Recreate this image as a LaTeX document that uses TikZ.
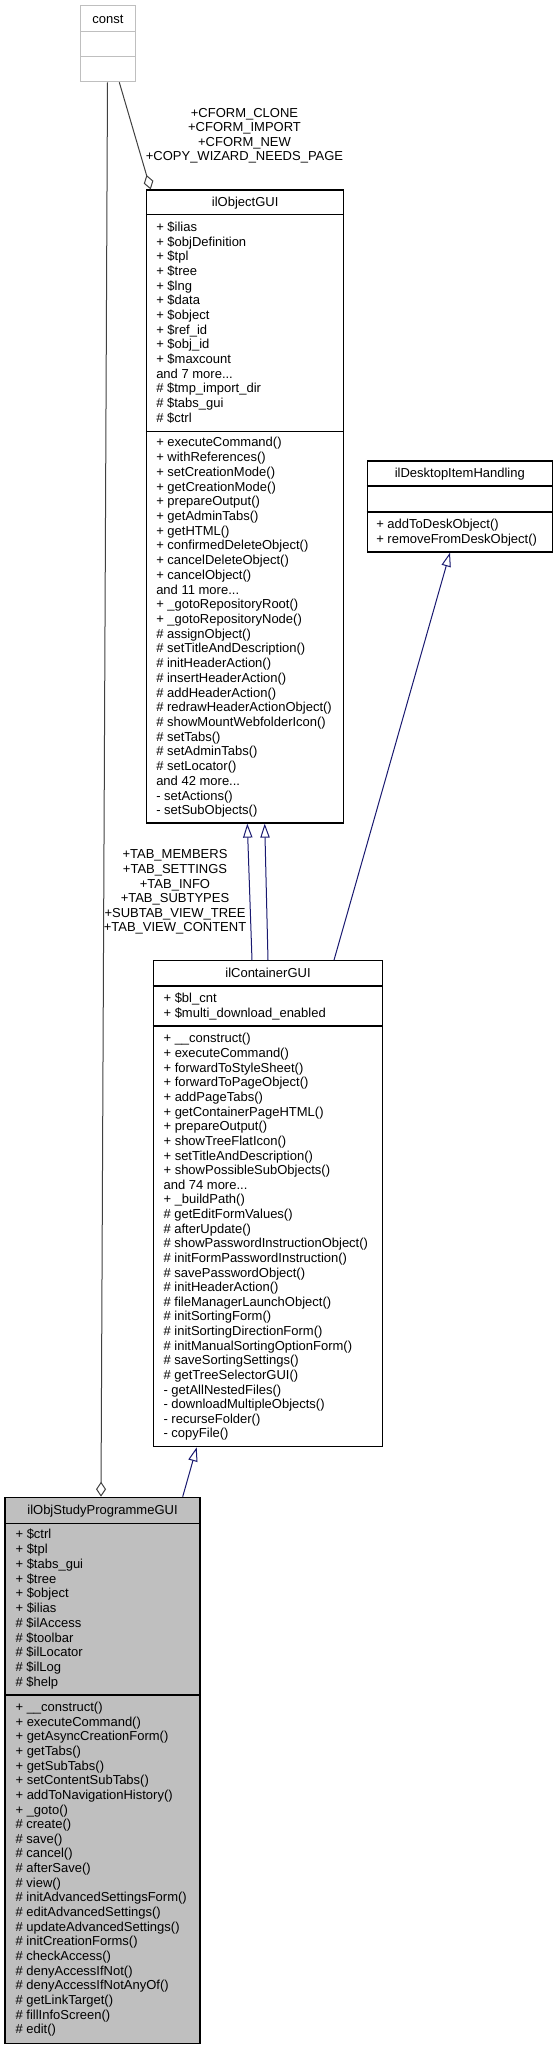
\documentclass[tikz,border=0pt]{standalone}
\usepackage{fontspec}
\setmainfont{Liberation Sans}
\usetikzlibrary{arrows.meta, calc, fit}
\definecolor{edgegray}{HTML}{404040}
\definecolor{boxgray}{HTML}{BFBFBF}
\definecolor{inheritblue}{HTML}{191970}

\tikzset{
  classbox/.style={draw=black, line width=0.9pt, inner sep=0pt},
  member/.style={anchor=west, inner sep=0pt, text height=7pt, text depth=0pt, font=\fontsize{9.75pt}{11pt}\selectfont},
  classname/.style={member, anchor=center},
  edgelbl/.style={member, anchor=center},
  inherit/.style={draw=inheritblue, line width=0.75pt, -{Triangle[open, length=10.5pt, width=7pt]}},
  usage/.style={draw=edgegray, line width=0.75pt, -{Diamond[open, length=11.25pt, width=7.5pt]}},
}

\begin{document}
\begin{tikzpicture}[x=0.75pt, y=-0.75pt]
    \useasboundingbox (0,0) rectangle (557,2049);

    \node[classbox, draw=boxgray, fit={(80.7,5.7) (135.3,81.7)}] (const) {};
    \node[classbox, fit={(146.5,190) (343.8,823)}] (objgui) {};
    \node[classbox, fit={(367.3,461) (552.3,552)}] (deskgui) {};
    \node[classbox, fit={(153.3,960.7) (382.7,1446.7)}] (contgui) {};
    \node[classbox, fill=boxgray, fit={(5,1497.3) (200,2043.3)}] (studygui) {};

    \foreach \y in {31.7, 56.7}
        \draw[draw=boxgray, line width=0.9pt] (const.west |- 0,\y) -- (const.east |- 0,\y);
    \foreach \b/\y in {objgui/214.2, objgui/431.7, deskgui/486, deskgui/512, contgui/986, contgui/1026, studygui/1523.3, studygui/1695}
        \draw[line width=0.9pt] (\b.west |- 0,\y) -- (\b.east |- 0,\y);

    \node[classname] (constT) at (const.north |- 0,18.5) {const};
    \node[classname] (objguiT) at (objgui.north |- 0,202) {ilObjectGUI};
    \node[classname] (deskguiT) at (deskgui.north |- 0,473) {ilDesktopItemHandling};
    \node[classname] (contguiT) at (contgui.north |- 0,973) {ilContainerGUI};
    \node[classname] (studyguiT) at (studygui.north |- 0,1510.3) {ilObjStudyProgrammeGUI};

    \foreach \t [count=\i from 0] in {+ \$ilias, + \$objDefinition, + \$tpl, + \$tree, + \$lng, + \$data, + \$object, + \$ref\_id, + \$obj\_id, + \$maxcount, and 7 more.{}.{}., \# \$tmp\_import\_dir, \# \$tabs\_gui, \# \$ctrl}
        \node[member] (objguiA\i) at (156, 226.7+14.67*\i) {\t};
    \foreach \t [count=\i from 0] in {+ executeCommand(), + withReferences(), + setCreationMode(), + getCreationMode(), + prepareOutput(), + getAdminTabs(), + getHTML(), + confirmedDeleteObject(), + cancelDeleteObject(), + cancelObject(), and 11 more.{}.{}., + \_gotoRepositoryRoot(), + \_gotoRepositoryNode(), \# assignObject(), \# setTitleAndDescription(), \# initHeaderAction(), \# insertHeaderAction(), \# addHeaderAction(), \# redrawHeaderActionObject(), \# showMountWebfolderIcon(), \# setTabs(), \# setAdminTabs(), \# setLocator(), and 42 more.{}.{}., - setActions(), - setSubObjects()}
        \node[member] (objguiM\i) at (156, 442.3+14.71*\i) {\t};

    \foreach \t [count=\i from 0] in {+ addToDeskObject(), + removeFromDeskObject()}
        \node[member] (deskguiM\i) at (376, 524+14.7*\i) {\t};

    \foreach \t [count=\i from 0] in {+ \$bl\_cnt, + \$multi\_download\_enabled}
        \node[member] (contguiA\i) at (163.3, 998.3+14.3*\i) {\t};
    \foreach \t [count=\i from 0] in {+ \_\_construct(), + executeCommand(), + forwardToStyleSheet(), + forwardToPageObject(), + addPageTabs(), + getContainerPageHTML(), + prepareOutput(), + showTreeFlatIcon(), + setTitleAndDescription(), + showPossibleSubObjects(), and 74 more.{}.{}., + \_buildPath(), \# getEditFormValues(), \# afterUpdate(), \# showPasswordInstructionObject(), \# initFormPasswordInstruction(), \# savePasswordObject(), \# initHeaderAction(), \# fileManagerLaunchObject(), \# initSortingForm(), \# initSortingDirectionForm(), \# initManualSortingOptionForm(), \# saveSortingSettings(), \# getTreeSelectorGUI(), - getAllNestedFiles(), - downloadMultipleObjects(), - recurseFolder(), - copyFile()}
        \node[member] (contguiM\i) at (163.3, 1038.3+14.63*\i) {\t};

    \foreach \t [count=\i from 0] in {+ \$ctrl, + \$tpl, + \$tabs\_gui, + \$tree, + \$object, + \$ilias, \# \$ilAccess, \# \$toolbar, \# \$ilLocator, \# \$ilLog, \# \$help}
        \node[member] (studyguiA\i) at (15.3, 1534.3+14.73*\i) {\t};
    \foreach \t [count=\i from 0] in {+ \_\_construct(), + executeCommand(), + getAsyncCreationForm(), + getTabs(), + getSubTabs(), + setContentSubTabs(), + addToNavigationHistory(), + \_goto(), \# create(), \# save(), \# cancel(), \# afterSave(), \# view(), \# initAdvancedSettingsForm(), \# editAdvancedSettings(), \# updateAdvancedSettings(), \# initCreationForms(), \# checkAccess(), \# denyAccessIfNot(), \# denyAccessIfNotAnyOf(), \# getLinkTarget(), \# fillInfoScreen(), \# edit()}
        \node[member] (studyguiM\i) at (15.3, 1706.7+14.66*\i) {\t};

    \draw[usage] (const.south -| 107.5,0) -- (studygui.north -| 101,0);
    \draw[usage] (const.south -| 119.3,0) -- (objgui.north -| 150.7,0);
    \draw[inherit] (contgui.north -| 252,0) -- (objgui.south -| 247.3,0);
    \draw[inherit] (contgui.north -| 268,0) -- (objgui.south -| 264.7,0);
    \draw[inherit] (contgui.north -| 334,0) -- (deskgui.south -| 450,0);
    \draw[inherit] (studygui.north -| 182.7,0) -- (contgui.south -| 196.7,0);

    \foreach \t [count=\i from 0] in {+CFORM\_CLONE, +CFORM\_IMPORT, +CFORM\_NEW, +COPY\_WIZARD\_NEEDS\_PAGE}
        \node[edgelbl] (cformlbl\i) at (244.5, 112.7+14.45*\i) {\t};
    \foreach \t [count=\i from 0] in {+TAB\_MEMBERS, +TAB\_SETTINGS, +TAB\_INFO, +TAB\_SUBTYPES, +SUBTAB\_VIEW\_TREE, +TAB\_VIEW\_CONTENT}
        \node[edgelbl] (tablbl\i) at (175, 854.3+14.6*\i) {\t};
\end{tikzpicture}
\end{document}
